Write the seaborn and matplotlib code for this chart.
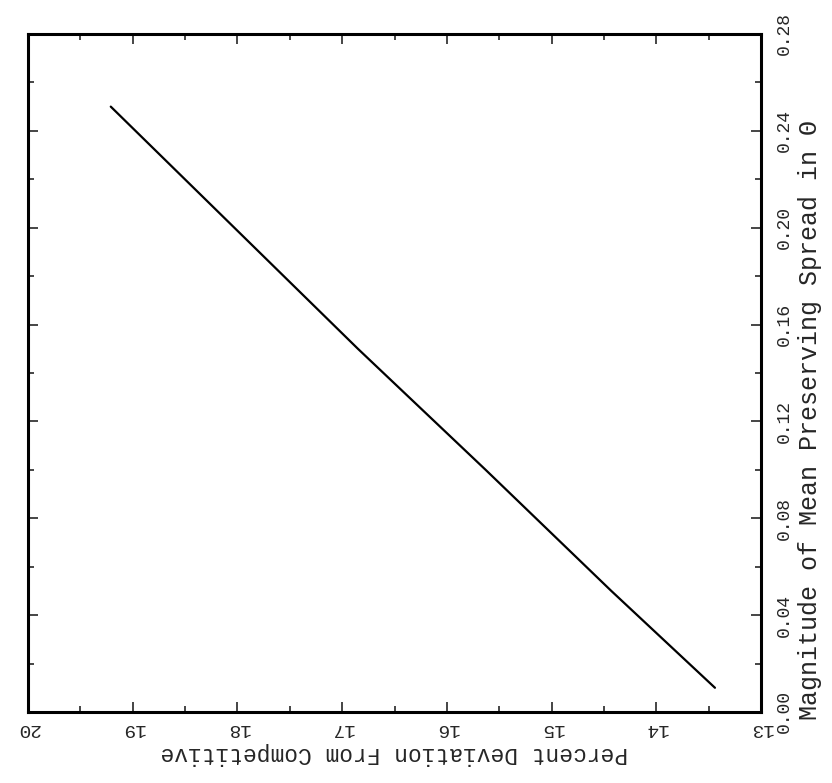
import numpy as np
import pandas as pd
import matplotlib
matplotlib.use("Agg")
import matplotlib.pyplot as plt
import seaborn as sns
from matplotlib.ticker import MultipleLocator

spread = [0.01, 0.05, 0.10, 0.15, 0.20, 0.25]          # magnitude of mean preserving spread
pct_dev = [13.44, 14.43, 15.63, 16.85, 18.03, 19.21]   # percent deviation from competitive

pct_ticks = [20, 19, 18, 17, 16, 15, 14, 13]
spread_ticks = [0.00, 0.04, 0.08, 0.12, 0.16, 0.20, 0.24, 0.28]

df = pd.DataFrame({"spread": spread, "pct": pct_dev})

sns.set_style("ticks")
plt.rcParams["font.family"] = ["Liberation Mono", "DejaVu Sans Mono"]

fig = plt.figure(figsize=(8.32, 7.83), dpi=100)
ax = fig.add_axes([0.0337, 0.0907, 0.8810, 0.8659])

# chart is drawn turned a quarter turn: percent runs along the bottom, spread up the right side
sns.lineplot(data=df, x="pct", y="spread", color="black", linewidth=1.6, ax=ax, sort=False)

ax.set_xlim(20, 13)
ax.set_ylim(0, 0.28)
ax.set_xticks(pct_ticks)
ax.set_xticklabels([str(t) for t in pct_ticks], rotation=180)
ax.set_yticks(spread_ticks)
ax.set_yticklabels([f"{t:.2f}" for t in spread_ticks], rotation=90, va="center")
ax.xaxis.set_minor_locator(MultipleLocator(0.5))
ax.yaxis.set_minor_locator(MultipleLocator(0.02))

ax.tick_params(which="both", direction="in", top=True, bottom=True, left=True, right=True,
               labelleft=False, labelright=True, width=1.2)
ax.tick_params(which="major", length=7)
ax.tick_params(axis="x", which="major", pad=6, labelsize=14)
ax.tick_params(axis="y", which="major", pad=11, labelsize=13)
ax.tick_params(which="minor", length=4)

for s in ax.spines.values():
    s.set_linewidth(2.2)
    s.set_color("black")

ax.set_xlabel("Percent Deviation From Competitive", fontsize=16.5, rotation=180)
ax.xaxis.set_label_coords(0.5, -0.044)
ax.yaxis.set_label_position("right")
ax.set_ylabel("Magnitude of Mean Preserving Spread in \u0398", fontsize=18, rotation=90)
ax.yaxis.set_label_coords(1.05, 0.43)

fig.savefig("out.png", dpi=100)
